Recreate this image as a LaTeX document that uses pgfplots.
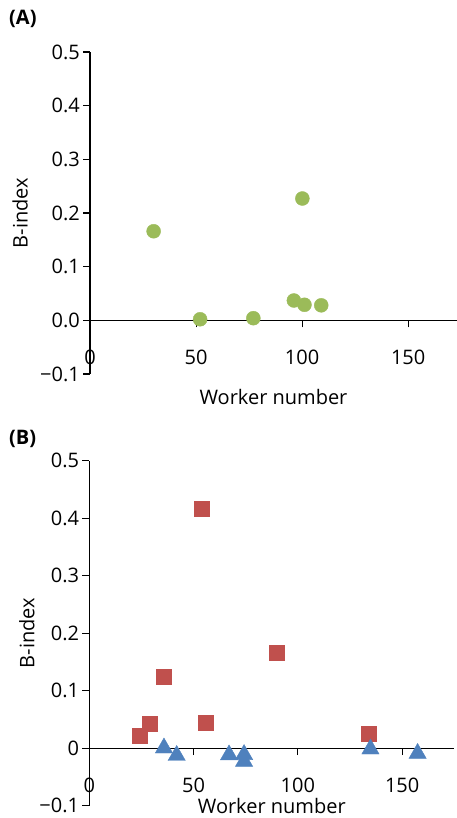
\documentclass[border=0pt]{standalone}
\usepackage{fontspec}
\setmainfont{Open Sans}
\usepackage{pgfplots}
\pgfplotsset{compat=1.18}
\definecolor{cgreen}{HTML}{9BBB59}
\definecolor{cred}{HTML}{C0504D}
\definecolor{cblue}{HTML}{4F81BD}
\newcommand\fs{\fontsize{20pt}{24pt}\selectfont}
\pgfplotsset{
  myaxis/.style={
    scale only axis, anchor=south west,
    axis x line=middle, axis y line=left,
    axis line style={-, black, line width=1.1pt},
    tick style={black, line width=1.1pt},
    tick align=outside, major tick length=7pt,
    hide obscured x ticks=false, hide obscured y ticks=false,
    xmin=0, ymin=-0.1, ymax=0.5,
    xtick={0,50,100,150},
    ytick={-0.1,0,0.1,0.2,0.3,0.4,0.5},
    /pgf/number format/assume math mode=true,
    tick label style={font=\fs},
    label style={font=\fs},
    xticklabel style={anchor=center, yshift=-30pt},
    yticklabel style={inner sep=3pt},
    clip=false,
  }
}
\begin{document}
\begin{tikzpicture}
\path[use as bounding box] (0,0) rectangle (457pt,-818pt);
\node[anchor=west, inner sep=0pt, font=\fs\bfseries] at (9pt,-19pt) {(A)};
\node[anchor=west, inner sep=0pt, font=\fs\bfseries] at (9pt,-439pt) {(B)};
\begin{axis}[myaxis,
  at={(90pt,-374pt)}, width=367pt, height=322pt, xmax=173,
  yticklabels={−0.1,0.0,0.1,0.2,0.3,0.4,0.5},
  xlabel={Worker number}, ylabel={B-index},
  xlabel style={at={(axis description cs:0.5,-0.0714)}, anchor=center},
  ylabel style={at={(axis description cs:-0.1907,0.5)}, anchor=center},
]
\addplot[only marks, mark=*, mark size=7pt, color=cgreen]
coordinates {(30,0.166) (51.9,0.002) (77,0.004) (96.1,0.037) (100.1,0.227) (101.1,0.029) (109,0.028)};
\end{axis}
\begin{axis}[myaxis,
  at={(89.3pt,-805.7pt)}, width=365pt, height=345pt, xmax=175,
  yticklabels={−0.1,0,0.1,0.2,0.3,0.4,0.5},
  xlabel={Worker number}, ylabel={B-index},
  xlabel style={at={(axis description cs:0.5,0.0)}, anchor=center},
  ylabel style={at={(axis description cs:-0.1707,0.5)}, anchor=center},
]
\addplot[only marks, mark=square*, mark size=7.5pt, color=cred]
coordinates {(24,0.0225) (28.8,0.0434) (35.9,0.124) (54,0.416) (55.9,0.0446) (90,0.166) (134,0.026)};
\addplot[only marks, mark=triangle*, mark size=10pt, color=cblue, mark options={yshift=2.5pt}]
coordinates {(35.8,-0.004) (41.9,-0.017) (67,-0.016) (74.2,-0.0154) (74.2,-0.0273) (134.8,-0.0058) (157.4,-0.0134)};
\end{axis}
\end{tikzpicture}
\end{document}
